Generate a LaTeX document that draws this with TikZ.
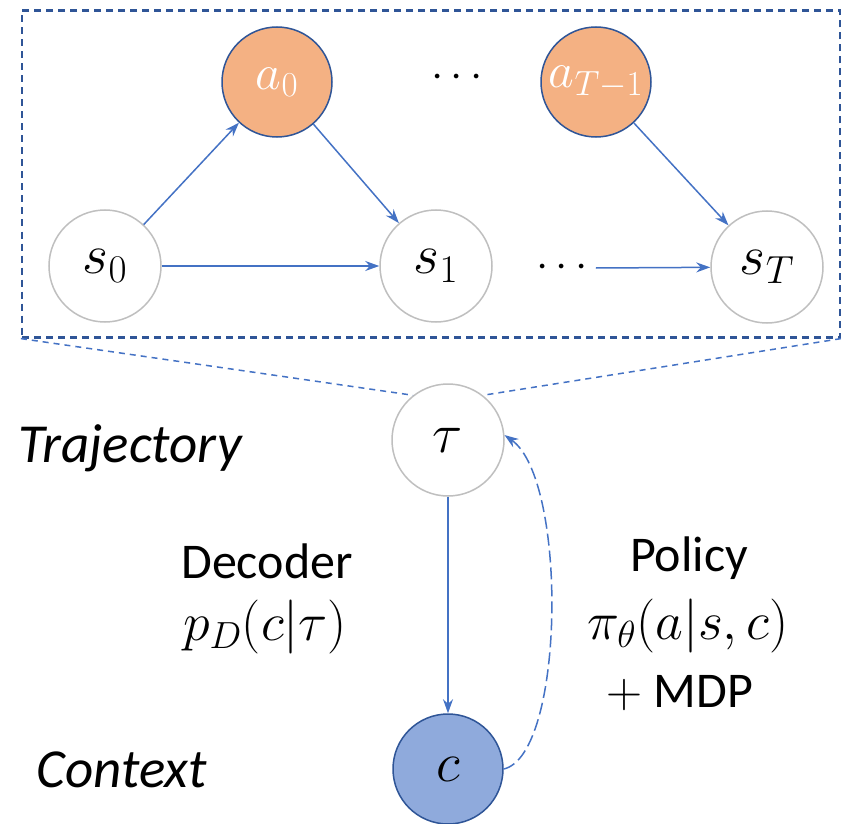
\RequirePackage{fix-cm}
\documentclass[tikz,border=0pt]{standalone}
\usepackage{fontspec}
\setmainfont{Carlito}
\usetikzlibrary{arrows.meta}
\definecolor{arr}{HTML}{4472C4}
\definecolor{dkblue}{HTML}{2F5597}
\definecolor{orng}{HTML}{F4B183}
\definecolor{ctx}{HTML}{8FAADC}
\definecolor{gry}{HTML}{BFBFBF}
\tikzset{
  wcirc/.style={circle, draw=gry, line width=1.5pt, fill=white, minimum size=112pt, inner sep=0pt, font=\fontsize{56}{60}\selectfont},
  ocirc/.style={circle, draw=dkblue, line width=1.5pt, fill=orng, minimum size=110pt, inner sep=0pt, text=white, font=\fontsize{50}{60}\selectfont},
  ccirc/.style={circle, draw=dkblue, line width=1.5pt, fill=ctx, minimum size=110pt, inner sep=0pt, font=\fontsize{56}{60}\selectfont},
  conn/.style={draw=arr, line width=1.5pt, -{Stealth[length=14pt,width=10pt]}},
  lbl/.style={font=\fontsize{50}{60}\selectfont, inner sep=0pt},
  mlbl/.style={font=\fontsize{54}{60}\selectfont, inner sep=0pt},
  ilbl/.style={font=\fontsize{55}{60}\selectfont\itshape, inner sep=0pt},
  dots/.style={font=\fontsize{44}{50}\selectfont, inner sep=0pt},
}
\begin{document}
\begin{tikzpicture}[x=1pt,y=-1pt]
\useasboundingbox (0,0) rectangle (841,824);
% dashed box
\node[draw=dkblue, dashed, dash pattern=on 7pt off 5pt, line width=2.2pt, minimum width=818pt, minimum height=327pt, inner sep=0pt] (box) at (431,174) {};
% nodes
\node[wcirc] (s0) at (105,266) {$s_0$};
\node[wcirc] (s1) at (436,266) {$s_1$};
\node[wcirc] (sT) at (767,267) {$s_T$};
\node[ocirc] (a0) at (277,82) {$a_0$};
\node[ocirc] (aT) at (596,82) {$a_{T-1}$};
\node[dots] (d1) at (457,78) {$\cdots$};
\node[dots] (d2) at (562,268) {$\cdots$};
\node[wcirc] (tau) at (448,440) {$\tau$};
\node[ccirc] (c) at (448,769) {$c$};
% labels
\node[ilbl] (traj) at (130,448) {Trajectory};
\node[ilbl] (cont) at (122,770) {Context};
\node[lbl] (dec) at (267,561) {Decoder};
\node[mlbl] (pd) at (265,627) {$p_D(c|\tau)$};
\node[lbl] (pol) at (689,558) {Policy};
\node[mlbl] (pi) at (688,626) {$\pi_\theta(a|s,c)$};
\node[lbl] (mdp) at (680,693) {$+$ MDP};
% connectors
\draw[conn] (s0) -- (a0);
\draw[conn] (a0) -- (s1);
\draw[conn] (s0) -- (s1);
\draw[conn] (aT) -- (sT);
\draw[conn] ([xshift=8pt]d2.east) -- (sT);
\draw[conn] (tau) -- (c);
\draw[draw=arr, line width=1.5pt, dashed, dash pattern=on 6pt off 5pt] (box.south west) -- (tau.128);
\draw[draw=arr, line width=1.5pt, dashed, dash pattern=on 6pt off 5pt] (box.south east) -- (tau.52);
\draw[conn, dashed, dash pattern=on 12pt off 5pt] (c.east) .. controls (565,755) and (568,480) .. (tau.5);
\end{tikzpicture}
\end{document}
